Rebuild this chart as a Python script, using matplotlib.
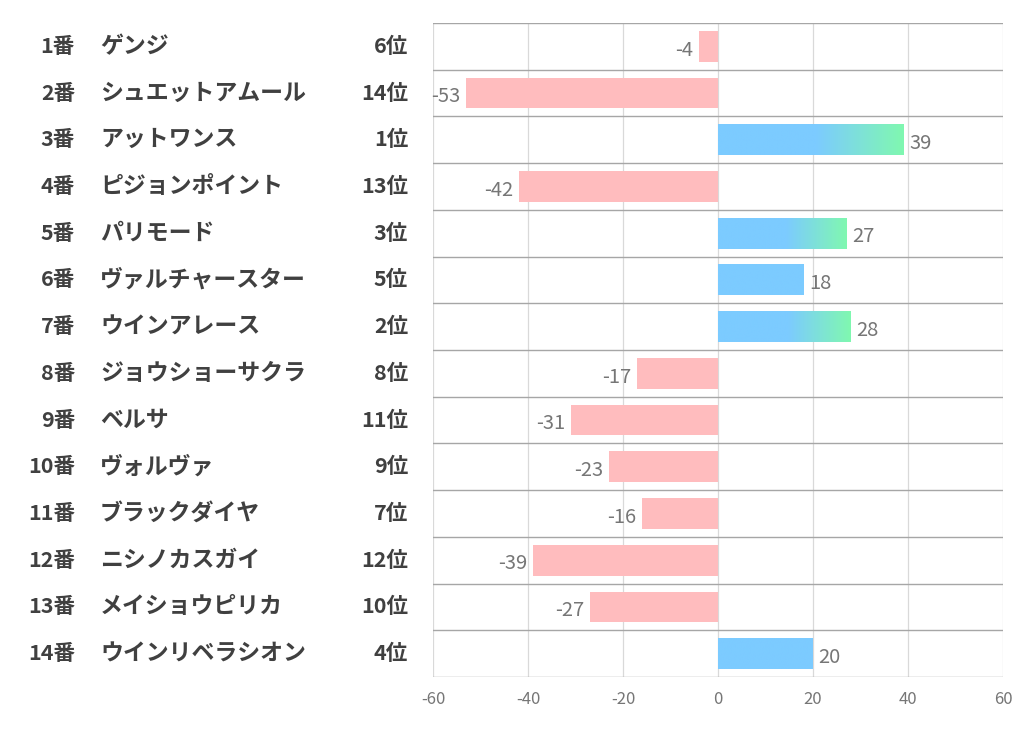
import numpy as np
import matplotlib
matplotlib.use("Agg")
import matplotlib.pyplot as plt
from matplotlib.transforms import blended_transform_factory

plt.rcParams['font.family'] = ['Noto Sans CJK JP', 'DejaVu Sans']

# Data
numbers = ["1番", "2番", "3番", "4番", "5番", "6番", "7番", "8番", "9番", "10番",
           "11番", "12番", "13番", "14番"]
names = ["ゲンジ", "シュエットアムール", "アットワンス", "ピジョンポイント", "パリモード",
         "ヴァルチャースター", "ウインアレース", "ジョウショーサクラ", "ベルサ", "ヴォルヴァ",
         "ブラックダイヤ", "ニシノカスガイ", "メイショウピリカ", "ウインリベラシオン"]
ranks = ["6位", "14位", "1位", "13位", "3位", "5位", "2位", "8位", "11位", "9位",
         "7位", "12位", "10位", "4位"]
values = [-4, -53, 39, -42, 27, 18, 28, -17, -31, -23, -16, -39, -27, 20]
xticks = [-60, -40, -20, 0, 20, 40, 60]

PINK = "#ffbcbe"
BLUE = np.array([0x7c, 0xcb, 0xff]) / 255
GREEN = np.array([0x80, 0xf8, 0xb0]) / 255
TEXT = "#404040"
VAL = "#767676"

fig = plt.figure(figsize=(10.22, 7.3), dpi=100)
ax = fig.add_axes([433 / 1022, 1 - 677 / 730, 570 / 1022, 654 / 730])

bar_h = 0.66

for i, v in enumerate(values):
    if v < 0:
        ax.barh(i, v, height=bar_h, color=PINK, zorder=2)
        ax.text(v - 1.2, i + 0.08, str(v), ha="right", va="center",
                fontsize=14.5, color=VAL, zorder=3)
    else:
        # top bars fade from blue to green over the outer half
        frac = np.linspace(0, 1, 300)
        if v >= 25:
            t = np.clip((frac - 0.53) / 0.47, 0, 1)
        else:
            t = np.zeros_like(frac)
        t = t[None, :, None]
        img = BLUE[None, None, :] * (1 - t) + GREEN[None, None, :] * t
        ax.imshow(img, extent=[0, v, i + bar_h / 2, i - bar_h / 2],
                  aspect="auto", zorder=2, interpolation="bilinear")
        ax.text(v + 1.2, i + 0.08, str(v), ha="left", va="center",
                fontsize=14.5, color=VAL, zorder=3)

ax.set_xlim(-60, 60)
ax.set_ylim(len(values) - 0.5, -0.5)

# grid lines
for x in xticks:
    ax.axvline(x, color="#d9d9d9", lw=0.9, zorder=1)
for b in np.arange(-0.5, len(values), 1.0):
    ax.axhline(b, color="#a6a6a6", lw=1.0, zorder=1)

for s in ax.spines.values():
    s.set_visible(False)
ax.set_yticks([])
ax.set_xticks(xticks)
ax.set_xticklabels([str(x) for x in xticks], fontsize=12, color=VAL)
ax.tick_params(axis="x", length=0, pad=10)

# left labels
tr = blended_transform_factory(fig.transFigure, ax.transData)
for i in range(len(values)):
    ax.text(75 / 1022, i, numbers[i], transform=tr, ha="right", va="center",
            fontsize=15.5, fontweight="bold", color=TEXT)
    ax.text(100 / 1022, i, names[i], transform=tr, ha="left", va="center",
            fontsize=16.5, fontweight="bold", color=TEXT)
    ax.text(408 / 1022, i, ranks[i], transform=tr, ha="right", va="center",
            fontsize=15.5, fontweight="bold", color=TEXT)

fig.savefig("out.png", dpi=100)
